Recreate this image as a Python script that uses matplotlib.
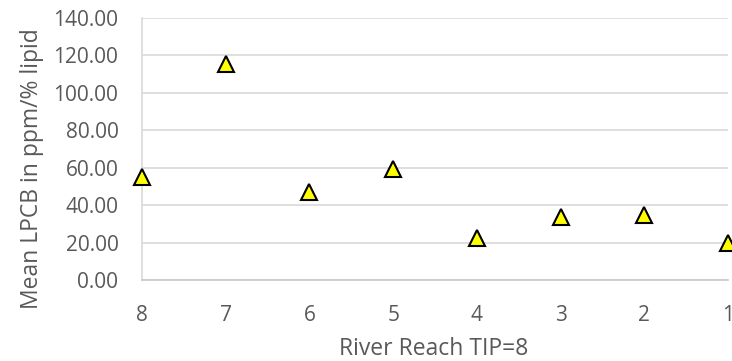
import matplotlib.pyplot as plt

plt.rcParams['font.family'] = ['Open Sans', 'DejaVu Sans']

reach = ['8', '7', '6', '5', '4', '3', '2', '1']
mean_lpcb = [55.2, 115.3, 47.2, 59.1, 22.3, 33.8, 34.6, 19.6]

grey_text = '#595959'

fig = plt.figure(figsize=(7.32, 3.61), dpi=100)
ax = fig.add_axes([142 / 732, 1 - 280 / 361, (728 - 142) / 732, (280 - 18) / 361])

x = list(range(len(reach)))
ax.plot(x, mean_lpcb, linestyle='none', marker='^', markersize=11,
        markerfacecolor='#ffff00', markeredgecolor='black', markeredgewidth=1.5,
        clip_on=False, zorder=3)

ax.set_xlim(0, len(reach) - 1)
ax.set_ylim(0, 140)
ax.set_xticks(x)
ax.set_xticklabels(reach)
ax.set_yticks(range(0, 141, 20))
ax.set_yticklabels([f"{v:.2f}" for v in range(0, 141, 20)])

ax.grid(axis='y', color='#d9d9d9', linewidth=1.2)
ax.set_axisbelow(True)
for side in ['top', 'right']:
    ax.spines[side].set_visible(False)
ax.spines['left'].set_color('#d9d9d9')
ax.spines['bottom'].set_color('#c8c8c8')
ax.spines['left'].set_linewidth(1.2)
ax.spines['bottom'].set_linewidth(1.2)

ax.tick_params(length=0, labelsize=15, labelcolor=grey_text)
ax.tick_params(axis='y', pad=17)
ax.tick_params(axis='x', pad=18)

ax.set_xlabel("River Reach TIP=8", fontsize=16.5, color=grey_text, va='center')
ax.set_ylabel("Mean LPCB in ppm/% lipid", fontsize=16.5, color=grey_text, va='center')
ax.xaxis.set_label_coords(0.498, -0.262)
ax.yaxis.set_label_coords(-0.188, 0.427)

plt.savefig('out.png', dpi=100)
plt.close()
